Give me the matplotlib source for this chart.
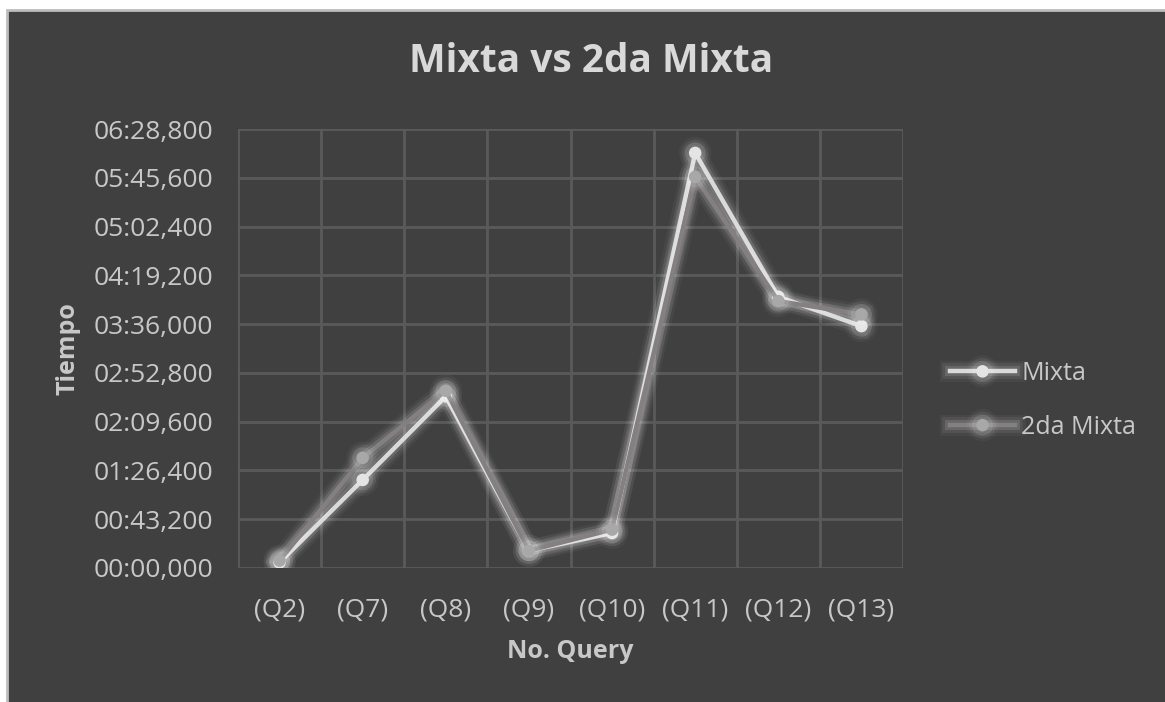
import matplotlib
matplotlib.use("Agg")
import matplotlib.pyplot as plt
import matplotlib.patheffects as pe
from matplotlib.patches import Rectangle
from matplotlib.ticker import FuncFormatter, FixedLocator

plt.rcParams['font.family'] = ['Open Sans', 'DejaVu Sans']

queries = ["(Q2)", "(Q7)", "(Q8)", "(Q9)", "(Q10)", "(Q11)", "(Q12)", "(Q13)"]
# tiempos en segundos
mixta = [5.0, 78.0, 152.0, 15.3, 31.0, 367.6, 240.2, 214.2]
mixta2 = [6.5, 97.6, 157.0, 15.3, 34.0, 346.4, 236.4, 224.6]
yticks = [i * 43.2 for i in range(10)]

bg = "#404040"
txt = "#c8c8c8"

fig = plt.figure(figsize=(11.65, 7.02), dpi=100, facecolor="white")
fig.patches.append(Rectangle((7 / 1165, -0.01), 1, 1.01 - 10 / 702, transform=fig.transFigure,
                             facecolor=bg, edgecolor="#bdbdbd", linewidth=2, zorder=-10))

ax = fig.add_axes([238 / 1165, 1 - 568 / 702, 665 / 1165, 439 / 702])
ax.set_facecolor(bg)

def fmt(v, pos):
    ms = int(round(v * 1000))
    m = ms // 60000
    s = (ms % 60000) // 1000
    f = ms % 1000
    return f"{m:02d}:{s:02d},{f:03d}"

x = list(range(len(queries)))

def glow(lw):
    return [pe.Stroke(linewidth=lw + 12, foreground="white", alpha=0.04),
            pe.Stroke(linewidth=lw + 8, foreground="white", alpha=0.07),
            pe.Stroke(linewidth=lw + 4, foreground="white", alpha=0.12),
            pe.Normal()]

ax.plot(x, mixta, color="#d9d9d9", lw=3.2, marker="o", ms=8, mfc="#e4e4e4", mec="#e4e4e4",
        label="Mixta", path_effects=glow(3.2), zorder=3)
ax.plot(x, mixta2, color="#858080", lw=3.2, marker="o", ms=8, mfc="#a8a8a8", mec="#a8a8a8",
        label="2da Mixta", path_effects=glow(3.2), zorder=4)

ax.set_xlim(-0.5, len(queries) - 0.5)
ax.set_ylim(0, 388.8)
ax.set_xticks(x)
ax.set_xticklabels(queries)
ax.xaxis.set_minor_locator(FixedLocator([i - 0.5 for i in range(len(queries) + 1)]))
ax.set_yticks(yticks)
ax.yaxis.set_major_formatter(FuncFormatter(fmt))

ax.grid(True, which="major", axis="y", color="#5a5a5a", lw=2)
ax.grid(True, which="minor", axis="x", color="#5a5a5a", lw=2)
ax.set_axisbelow(True)
for s in ax.spines.values():
    s.set_visible(False)
ax.tick_params(axis="both", which="both", length=0, labelcolor=txt, labelsize=19)
ax.tick_params(axis="x", pad=21)
ax.tick_params(axis="y", pad=18)

fig.text(591 / 1165, 1 - 62 / 702, "Mixta vs 2da Mixta", ha="center", va="center",
         fontsize=28, fontweight="bold", color="#d9d9d9")
fig.text(570 / 1165, 1 - 652 / 702, "No. Query", ha="center", va="center",
         fontsize=18, fontweight="bold", color=txt)
fig.text(68 / 1165, 1 - 349 / 702, "Tiempo", ha="center", va="center", rotation=90,
         fontsize=18, fontweight="bold", color=txt)

leg = fig.legend(loc="center left", bbox_to_anchor=(950 / 1165, 1 - 400.5 / 702),
                 frameon=False, fontsize=18, labelcolor=txt, handlelength=2.6,
                 handletextpad=0.25, labelspacing=1.15, borderpad=0, borderaxespad=0)

fig.savefig("out.png", dpi=100, facecolor=fig.get_facecolor())
